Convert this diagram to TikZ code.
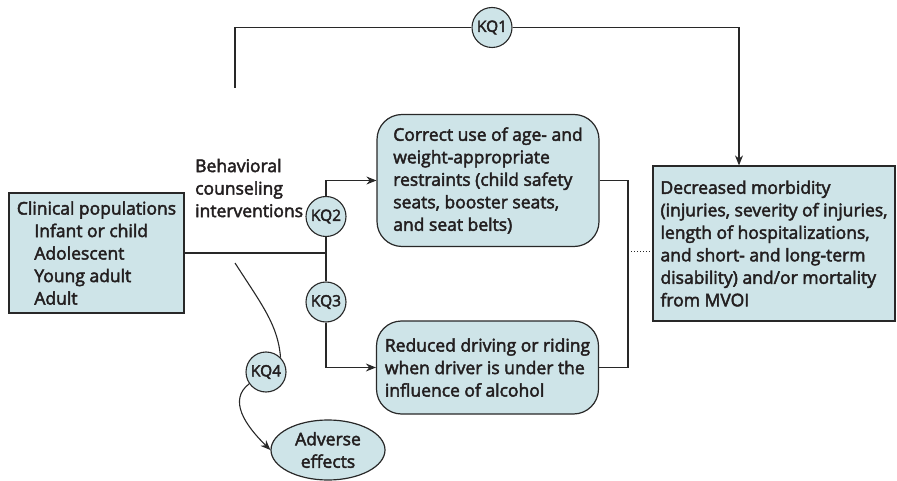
\documentclass[tikz,border=0pt]{standalone}
\usepackage{fontspec}
\setmainfont{Open Sans}[RawFeature={embolden=2.6}]
\usetikzlibrary{arrows.meta,shapes.geometric,calc}
\definecolor{boxfill}{RGB}{206,228,232}
\definecolor{linec}{RGB}{40,40,40}
\definecolor{textc}{RGB}{35,31,32}
\pgfdeclarelayer{bg}\pgfsetlayers{bg,main}
\begin{document}
\begin{tikzpicture}[x=1pt,y=-1pt,font=\fontsize{17.5}{22.5}\selectfont,text=textc,
  box/.style={draw=linec,fill=boxfill,line width=1.2pt,align=left,inner sep=0pt},
  rbox/.style={box,rounded corners=25pt},
  kq/.style={circle,draw=linec,fill=boxfill,line width=1.1pt,minimum size=40pt,inner sep=0pt,font=\fontsize{15.5}{18}\selectfont},
  conn/.style={draw=linec,line width=1.1pt},
  arr/.style={conn,-{Stealth[length=10pt,width=8pt]}}]
\useasboundingbox (0,0) rectangle (897,481);
\node[box,minimum width=175pt,minimum height=120pt] (clin) at (96.5,253)
  {Clinical populations\\\hspace{1em}Infant or child\\\hspace{1em}Adolescent\\\hspace{1em}Young adult\\\hspace{1em}Adult};
\node[anchor=west,inner sep=0pt,align=left] (beh) at (195,188) {Behavioral\\counseling\\interventions};
\node[rbox,minimum width=222pt,minimum height=132pt] (restr) at (488,180.5)
  {Correct use of age- and\\weight-appropriate\\restraints (child safety\\seats, booster seats,\\and seat belts)};
\node[rbox,minimum width=222pt,minimum height=93pt] (alc) at (487.5,367.5)
  {Reduced driving or riding\\when driver is under the\\influence of alcohol};
\node[box,minimum width=242pt,minimum height=155pt] (outc) at (774,243.5)
  {Decreased morbidity\\(injuries, severity of injuries,\\length of hospitalizations,\\and short- and long-term\\disability) and/or mortality\\from MVOI};
\node[ellipse,box,align=center,minimum width=114pt,minimum height=60pt] (adv) at (328,450) {Adverse\\effects};
\node[kq] (kq1) at (492,27.5) {KQ1};
\node[kq] (kq2) at (326,216.5) {KQ2};
\node[kq] (kq3) at (326,302) {KQ3};
\node[kq] (kq4) at (266,372) {KQ4};
\coordinate (k1s) at (235,88);
\coordinate (brk) at (628,252);
\coordinate (k4s) at (235,263);
\begin{pgfonlayer}{bg}
\draw[conn] (clin.east) -- (clin.east -| kq2.south);
\draw[conn] (kq2.south) -- (kq3.north);
\draw[arr] (kq2.north) |- (restr.west);
\draw[arr] (kq3.south) |- (alc.west);
\draw[conn] (k1s) |- (kq1.west);
\draw[arr] (kq1.east) -| ([xshift=-35pt]outc.north);
\draw[conn] (restr.east) -| (brk) |- (alc.east);
\draw[linec,dotted,line width=1pt] (brk) -- (brk -| outc.west);
\draw[conn] (k4s) .. controls (262,305) and (278,325) .. (kq4.north east);
\draw[arr] (kq4.215) .. controls (228,400) and (245,425) .. (adv.west);
\end{pgfonlayer}
\end{tikzpicture}
\end{document}
